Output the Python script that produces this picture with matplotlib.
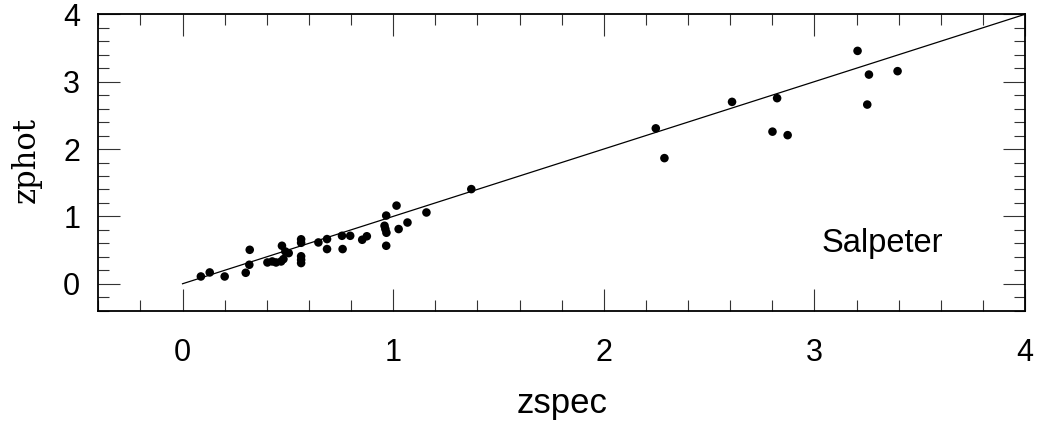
import matplotlib
matplotlib.use("Agg")
import matplotlib.pyplot as plt
from matplotlib.ticker import MultipleLocator

# Data
zspec = [0.087, 0.129, 0.200, 0.300, 0.317, 0.319, 0.403, 0.426, 0.444, 0.468,
         0.479, 0.472, 0.488, 0.504, 0.563, 0.563, 0.563, 0.563, 0.563, 0.645,
         0.686, 0.686, 0.757, 0.760, 0.796, 0.853, 0.875, 0.967, 1.016, 0.959,
         0.963, 0.968, 0.967, 1.026, 1.068, 1.158, 1.371, 2.247, 2.288, 2.609,
         2.823, 2.801, 2.873, 3.205, 3.259, 3.395, 3.251]
zphot = [0.108, 0.168, 0.108, 0.163, 0.282, 0.504, 0.316, 0.331, 0.316, 0.331,
         0.366, 0.564, 0.479, 0.455, 0.660, 0.608, 0.408, 0.356, 0.307, 0.613,
         0.663, 0.515, 0.712, 0.515, 0.712, 0.653, 0.705, 1.012, 1.160, 0.861,
         0.812, 0.757, 0.564, 0.812, 0.909, 1.058, 1.405, 2.307, 1.865, 2.700,
         2.755, 2.258, 2.206, 3.457, 3.105, 3.156, 2.660]
line_x = [0, 4]
line_y = [0, 4]
xticks = [0, 1, 2, 3, 4]
yticks = [0, 1, 2, 3, 4]
label_text = "Salpeter"

fig = plt.figure(figsize=(10.47, 4.32), dpi=100)
ax = fig.add_axes([98.3 / 1047, 1 - 310.7 / 432, (1025 - 98.3) / 1047, (310.7 - 14.3) / 432])

ax.plot(line_x, line_y, color="black", lw=0.9)
ax.scatter(zspec, zphot, s=38, color="black", edgecolors="none", zorder=3)

ax.set_xlim(-0.4, 4)
ax.set_ylim(-0.4, 4)
ax.set_xticks(xticks)
ax.set_yticks(yticks)
ax.xaxis.set_minor_locator(MultipleLocator(0.2))
ax.yaxis.set_minor_locator(MultipleLocator(0.2))

ax.tick_params(which="both", direction="in", top=True, right=True, color="#333333", width=0.8)
ax.tick_params(which="major", length=16)
ax.tick_params(which="minor", length=8)
ax.tick_params(axis="x", which="major", pad=20, labelsize=22)
ax.tick_params(axis="y", which="major", pad=13, labelsize=22)
for lab in ax.get_xticklabels() + ax.get_yticklabels():
    lab.set_family("Liberation Sans")
for sp in ax.spines.values():
    sp.set_linewidth(1.3)

fig.text(561.7 / 1047, 1 - 413 / 432, "zspec", ha="center", va="baseline",
         fontsize=25, family="Liberation Sans")
fig.text(26 / 1047, 1 - 160 / 432, "zphot", ha="center", va="center", rotation=90,
         fontsize=22, family="DejaVu Serif")
ax.text(3.035, 0.475, label_text, ha="left", va="baseline", fontsize=23.5,
        family="Liberation Sans")

fig.savefig("out.png", dpi=100)
